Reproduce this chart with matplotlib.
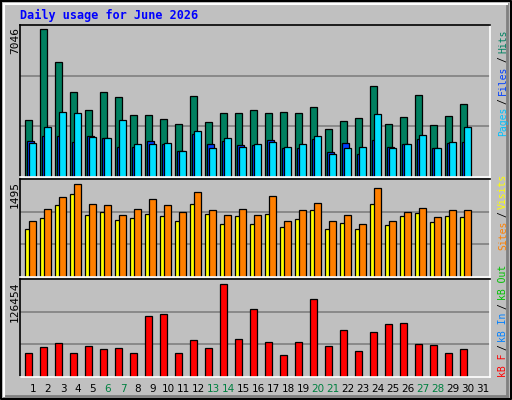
import matplotlib
matplotlib.use("Agg")
import matplotlib.pyplot as plt
import numpy as np

days = list(range(1, 32))
weekend_days = [6, 7, 13, 14, 20, 21, 27, 28]
hits = [2696, 7046, 5468, 4034, 3174, 4034, 3795, 2935, 2935, 2744, 2505, 3843, 2600, 3031, 3031,
        3174, 3031, 3078, 3031, 3317, 2266, 2648, 2792, 4321, 2505, 2839, 3891, 2457, 2887, 3461]
files = [1692, 1931, 1931, 1644, 1931, 1836, 1453, 1453, 1692, 1549, 1262, 2027, 1549, 1692, 1501,
         1501, 1740, 1358, 1405, 1788, 1214, 1597, 1119, 1740, 1453, 1549, 1788, 1405, 1597, 1644]
pages = [1597, 2361, 3078, 3031, 1883, 1836, 2696, 1549, 1549, 1597, 1262, 2170, 1405, 1836, 1453,
         1549, 1644, 1453, 1549, 1931, 1119, 1405, 1453, 2983, 1405, 1549, 1979, 1405, 1644, 2361]
visits = [780, 942, 1154, 1333, 991, 1040, 910, 942, 1008, 975, 894, 1170, 1008, 845, 975,
          845, 1008, 812, 926, 1073, 780, 861, 764, 1170, 829, 975, 1024, 878, 975, 959]
sites = [894, 1089, 1284, 1495, 1170, 1154, 991, 1089, 1251, 1154, 1040, 1365, 1073, 991, 1089,
         991, 1300, 894, 1073, 1186, 894, 991, 845, 1430, 894, 1040, 1105, 959, 1073, 1073]
kbytes = [32700, 40900, 46400, 32700, 42300, 38200, 39500, 32700, 83700, 86400, 32700, 50600, 39500,
          126454, 52000, 93300, 47800, 29900, 47800, 107100, 42300, 64400, 35400, 61600, 72700,
          74000, 45100, 43700, 32700, 38200]
max_labels = ["7046", "1495", "126454"]

W, H = 512, 400
BG = "#C0C0C0"
fig = plt.figure(figsize=(W / 100, H / 100), dpi=100, facecolor=BG)

border = fig.add_axes([0, 0, 1, 1])
border.set_xlim(0, W); border.set_ylim(H, 0); border.axis("off")
border.plot([1, W - 1, W - 1, 1, 1], [1, 1, H - 1, H - 1, 1], color="black", lw=1.5)
border.plot([4, W - 5], [H - 4, H - 4], color="#808080", lw=2)
border.plot([W - 5, W - 5], [4, H - 4], color="#808080", lw=2)
border.plot([4, W - 5], [4, 4], color="white", lw=1.5)
border.plot([4, 4], [4, H - 4], color="white", lw=1.5)

fig.text(20 / W, 1 - 15 / H, "Daily usage for June 2026", color="#0000FF", fontsize=8.5,
         fontweight="bold", family="DejaVu Sans Mono", va="center", ha="left")

def panel(top, bottom, ymax):
    ax = fig.add_axes([20 / W, 1 - bottom / H, 470 / W, (bottom - top) / H])
    ax.set_facecolor(BG)
    ax.set_xlim(-1 / 3, 31)
    ax.set_ylim(0, ymax)
    for s in ("top", "left"):
        ax.spines[s].set_color("black")
    for s in ("bottom", "right"):
        ax.spines[s].set_color("white")
    for sp in ax.spines.values():
        sp.set_linewidth(1.2)
    ax.set_xticks([]); ax.set_yticks([])
    for k in (1, 2):
        ax.axhline(ymax * k / 3, color="#808080", lw=1.2, zorder=0)
    return ax

x = np.arange(len(hits))
kw = dict(edgecolor="black", linewidth=0.9, align="edge")

ax1 = panel(25, 177, 7046 * 151.5 / 147.4)
ax1.bar(x, hits, width=7 / 15, color="#008060", **kw)
ax1.bar(x + 2 / 15, files, width=7 / 15, color="#0040FF", **kw)
ax1.bar(x + 4 / 15, pages, width=7.3 / 15, color="#00E0FF", **kw)

ax2 = panel(179, 277, 1495 * 97 / 92)
ax2.bar(x, visits, width=7 / 15, color="#FFFF00", **kw)
ax2.bar(x + 4 / 15, sites, width=6.5 / 15, color="#FF8000", **kw)

ax3 = panel(279, 377, 126454 * 97 / 91.7)
ax3.bar(x, kbytes, width=7 / 15, color="#FF0000", **kw)

for ax, lab in zip((ax1, ax2, ax3), max_labels):
    fig.text(15 / W, ax.get_position().y1 - 2 / H, lab, rotation=90, ha="center", va="top",
             fontsize=8, family="DejaVu Sans Mono")

for d in days:
    fig.text((25 + 15 * (d - 1) + 8) / W, 1 - 389 / H, str(d), ha="center", va="center",
             fontsize=7.5, color="#008040" if d in weekend_days else "black")

def side_label(parts, bottom_px):
    y = bottom_px
    cw = 5.9
    for txt, col in parts:
        fig.text(503 / W, 1 - y / H, txt.strip(), rotation=90, ha="center", va="bottom", color=col,
                 fontsize=7, family="DejaVu Sans Mono")
        y -= cw * len(txt.strip()) + (3 if txt.strip() == "/" else 3)

side_label([("Pages", "#00C0FF"), ("/", "black"), ("Files", "#0040FF"), ("/", "black"),
            ("Hits", "#008060")], 136)
side_label([("Sites", "#FF8000"), ("/", "black"), ("Visits", "#FFFF00")], 250)
side_label([("kB F", "#FF0000"), ("/", "black"), ("kB In", "#0080FF"), ("/", "black"),
            ("kB Out", "#00C000")], 377)

fig.savefig("out.png", dpi=100, facecolor=BG)
